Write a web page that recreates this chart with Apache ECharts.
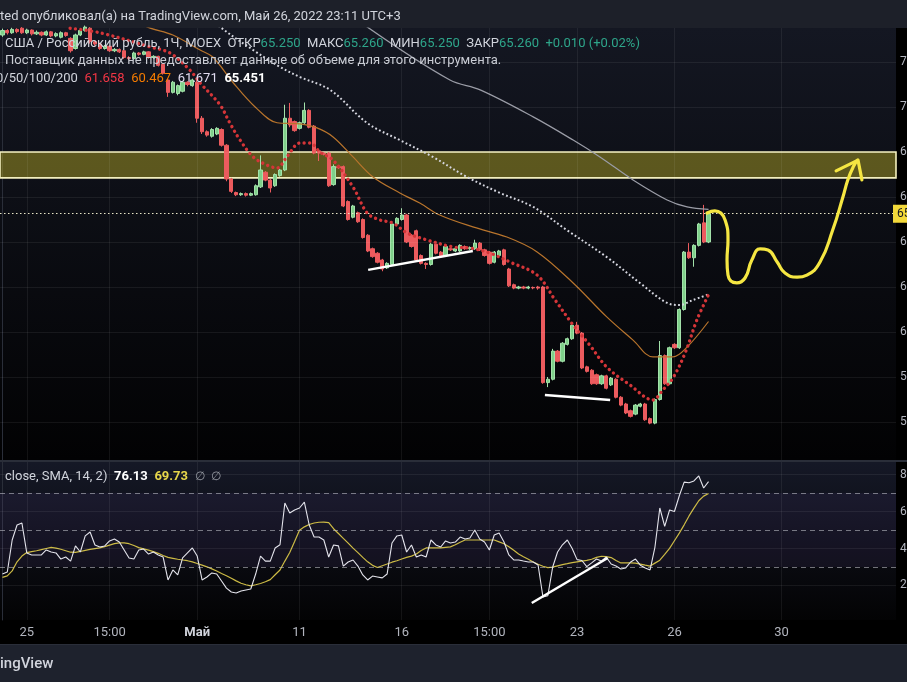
<!DOCTYPE html>
<html><head><meta charset="utf-8">
<script src="https://cdn.jsdelivr.net/npm/echarts@6/dist/echarts.min.js"></script>
<style>html,body{margin:0;padding:0;background:#000;}#c{width:907px;height:682px;}</style>
</head><body><div id="c"></div>
<script>
// ---------- data ----------
const slotCount = 184; // hourly slots on the time scale (incl. empty future)
const tickIndex = [5, 22, 40, 61, 82, 100, 118, 138, 160];
const tickLabels = ['25', '15:00', 'Май', '11', '16', '15:00', '23', '26', '30'];
const priceTicks = [56, 58, 60, 62, 64, 66, 68, 70, 72];
const rsiTicks = [80, 60, 40, 20];
const rsiLevels = [70, 50, 30];
// [open, close, low, high]
const candles = [
[73.20,73.40,73.12,73.48],[73.40,73.30,73.22,73.46],[73.30,73.45,73.25,73.52],[73.45,73.35,73.28,73.50],[73.50,73.30,73.25,73.55],
[73.30,73.42,73.24,73.48],[73.42,73.25,73.18,73.45],[73.25,73.32,73.20,73.40],[73.32,73.20,73.14,73.36],[73.20,73.34,73.16,73.40],
[73.34,73.16,73.10,73.38],[73.16,73.26,73.10,73.32],[73.10,73.30,73.05,73.36],[73.30,73.18,73.12,73.34],[73.05,72.50,72.42,73.10],
[72.60,73.20,72.55,73.26],[73.20,73.40,73.15,73.48],[73.40,73.55,73.35,73.62],[73.50,72.90,72.82,73.55],[72.90,72.80,72.72,72.96],
[72.80,72.60,72.54,72.86],[72.60,72.70,72.55,72.76],[72.70,72.50,72.45,72.74],[72.50,72.56,72.44,72.62],[72.56,72.45,72.40,72.60],
[72.50,72.20,72.14,72.55],[72.20,72.15,72.08,72.26],[72.15,72.40,72.10,72.46],[72.40,72.34,72.28,72.44],[72.34,72.45,72.30,72.50],
[72.45,72.20,72.15,72.48],[72.20,72.25,72.14,72.30],[72.25,71.85,71.80,72.28],[71.90,71.50,71.44,71.95],[71.20,70.65,70.45,71.25],
[70.65,71.10,70.60,71.16],[70.60,70.95,70.52,71.00],[70.70,71.10,70.65,71.16],[71.10,71.00,70.92,71.15],[70.95,71.20,70.90,71.26],
[71.10,69.50,69.30,71.20],[69.50,68.90,68.80,69.60],[68.90,68.75,68.68,68.96],[68.70,69.00,68.64,69.06],[68.80,69.05,68.75,69.10],
[69.00,68.30,68.24,69.05],[68.30,66.80,66.70,68.35],[66.80,66.25,66.18,66.85],[66.20,66.10,66.04,66.24],[66.10,66.15,66.05,66.20],
[66.15,66.08,66.02,66.20],[66.08,66.15,66.04,66.20],[66.10,66.50,66.06,66.56],[66.45,67.20,66.40,67.85],[67.10,66.75,66.70,67.15],
[66.75,66.40,66.20,66.80],[66.50,67.00,66.45,67.05],[66.95,67.20,66.90,67.25],[67.20,69.50,67.15,70.10],[69.50,69.20,69.10,70.18],
[69.35,68.95,68.90,69.40],[69.05,69.30,69.00,69.35],[69.30,69.85,69.25,70.20],[69.85,69.10,69.05,69.90],[69.15,67.95,67.90,69.20],
[68.05,67.95,67.60,68.10],[67.95,67.90,67.85,68.00],[67.95,66.50,66.45,68.00],[66.55,67.35,66.50,67.45],[67.35,67.30,67.25,67.40],
[67.35,65.60,65.55,67.40],[65.80,65.00,64.95,65.85],[65.10,65.60,65.05,65.65],[65.30,64.90,64.85,65.35],[65.00,64.20,64.15,65.05],
[64.30,63.60,63.55,64.35],[63.70,63.35,63.30,63.75],[63.50,63.10,63.05,63.55],[63.20,62.80,62.70,63.25],[62.85,63.05,62.80,63.10],
[63.00,64.80,62.95,64.85],[64.80,65.05,64.75,65.10],[65.00,65.20,64.95,65.50],[65.20,64.00,63.95,65.25],[64.30,63.80,63.75,64.35],
[64.50,63.20,63.15,64.55],[63.40,63.05,63.00,63.45],[63.05,63.00,62.80,63.10],[63.00,63.90,62.95,63.95],[63.90,63.50,63.45,63.95],
[63.55,63.35,63.30,63.60],[63.40,63.80,63.35,63.85],[63.70,63.65,63.60,63.75],[63.60,63.70,63.55,63.75],[63.60,63.85,63.55,63.90],
[63.80,63.70,63.65,63.85],[63.70,63.75,63.65,63.80],[63.70,63.95,63.65,64.10],[63.95,63.65,63.60,64.00],[63.65,63.40,63.35,63.70],
[63.55,63.05,63.00,63.60],[63.10,63.55,63.05,63.60],[63.40,63.60,63.35,63.65],[63.65,63.00,62.95,63.70],[62.80,62.05,62.00,62.85],
[62.10,61.95,61.90,62.15],[61.95,62.00,61.90,62.05],[62.00,61.95,61.90,62.05],[61.95,62.00,61.90,62.05],[61.98,61.96,61.90,62.02],
[62.00,61.95,61.88,62.05],[62.00,57.75,57.70,62.05],[57.75,57.90,57.55,58.00],[57.90,59.15,57.85,59.25],[59.15,58.70,58.65,59.20],
[58.70,59.50,58.65,59.55],[59.45,59.70,59.40,59.75],[59.70,60.30,59.65,60.35],[60.30,59.95,59.90,60.45],[59.95,58.40,58.35,60.00],
[58.45,58.25,58.20,58.50],[58.30,57.70,57.65,58.35],[58.10,57.70,57.65,58.15],[57.70,58.05,57.65,58.10],[58.05,57.50,57.45,58.10],
[57.65,57.95,57.60,58.00],[57.90,57.10,57.05,57.95],[57.10,56.75,56.70,57.15],[56.80,56.40,56.35,56.85],[56.50,56.25,56.20,56.55],
[56.35,56.75,56.30,56.80],[56.70,56.80,56.65,56.85],[56.80,56.10,56.05,56.85],[56.15,55.95,55.90,56.20],[55.95,57.00,55.90,57.05],
[57.00,58.95,56.95,59.60],[58.95,57.70,57.65,59.00],[57.70,59.30,57.65,59.35],[59.45,59.30,59.25,59.50],[59.30,61.00,59.25,61.05],
[61.00,63.55,60.95,63.60],[63.55,63.30,63.25,63.95],[63.30,63.85,62.90,63.90],[63.85,64.80,63.80,64.85],[64.85,64.00,63.95,65.65],
[64.00,65.26,63.95,65.30]
];
// moving averages: [slot, value]
const ma20 = [[13.9,73.5],[20,73.3],[30.3,72.67],[34.4,72.4],[38.5,71.64],[40.6,71.07],[44.7,70.09],[46.7,69.29],[48.8,68.53],[51.5,67.78],[54.3,67.42],[56.4,67.29],[58.4,67.78],[61.1,68.4],[63.2,68.4],[65.2,68.0],[67.9,67.64],[72,66.44],[74.9,65.29],[77.5,64.98],[80.2,64.84],[83.1,64.4],[87.2,64.09],[92.5,63.78],[96,63.73],[100.1,63.51],[104.2,63.11],[109.8,62.53],[113.5,61.42],[117.2,60.31],[120.6,59.42],[124.1,58.44],[128.9,57.64],[133.6,56.98],[135.6,57.42],[137.7,57.96],[140.2,59.07],[142.6,60.53],[145,61.658]];
const ma50 = [[24.1,74.2],[29.7,73.56],[35,73.2],[40.6,72.53],[43.2,72.22],[47.3,71.1],[51.9,70.0],[56.4,69.3],[61.1,69.25],[64.6,69.07],[67.9,68.67],[72,67.78],[76.1,66.89],[81.6,66.18],[85.7,65.73],[89.8,65.2],[96.6,64.67],[103.6,64.22],[109.8,63.56],[117.2,62.18],[124.1,60.67],[129.5,59.64],[133.6,58.89],[137.7,58.89],[140.6,59.33],[145,60.467]];
const ma100 = [[40.6,74.4],[44.7,73.56],[51.5,72.53],[57,71.78],[61.1,71.33],[67.3,70.76],[74.9,69.29],[81.6,68.53],[88.4,67.78],[95.4,66.89],[102.2,66.18],[109,65.56],[115.9,64.53],[124.1,63.33],[130.9,62.18],[136.5,61.29],[139.1,61.2],[141.8,61.42],[145,61.671]];
const ma200 = [[69.3,74.6],[74.9,73.56],[91.9,71.2],[98.1,70.76],[109,69.56],[117.2,68.53],[122.7,67.78],[129.5,66.76],[136.5,65.87],[140.6,65.56],[145,65.451]];
const rsi = [
26.2,27.3,44.6,52.7,53.8,37.6,36.5,36.5,36.5,39.2,
38.1,37.6,34.3,35.4,33.2,41.4,38.1,46.8,48.9,41.9,
40.8,41.4,44.1,45.1,43.5,39.2,34.9,34.3,39.2,39.7,
37.0,38.1,36.5,35.4,23.0,28.4,25.7,34.9,37.6,40.3,
35.9,23.0,24.6,26.8,26.2,22.4,18.6,16.5,15.9,17.0,
17.6,18.1,26.2,35.9,33.2,33.2,40.3,42.0,64.6,59.2,
60.8,61.9,65.1,52.7,46.2,46.2,44.6,35.4,41.9,41.4,
30.5,32.7,33.8,30.5,25.7,23.0,25.1,24.6,24.1,26.2,
43.0,46.8,47.3,38.1,41.9,35.4,36.5,35.4,44.6,41.9,
40.8,44.1,43.0,43.5,46.2,45.1,45.7,50.0,45.1,43.5,
39.2,47.3,48.4,43.5,36.5,33.8,33.8,33.2,32.7,32.7,
31.1,13.8,14.5,30.0,38.1,42.0,44.6,40.0,34.0,33.5,
30.2,32.2,34.3,33.2,35.4,31.6,30.5,28.9,29.5,32.7,
34.3,31.0,29.5,28.4,40.8,61.9,52.0,60.8,60.0,68.5,
75.9,75.5,76.5,79.2,72.7,76.13];
const rsiSma = [
24.4,25.2,27.9,32.8,35.9,37.8,38.3,38.8,39.4,40.0,
40.6,40.2,39.6,38.8,38.0,37.9,38.4,39.0,39.5,39.9,
40.3,41.0,41.8,42.6,43.0,43.0,42.6,41.6,40.5,39.8,
39.1,38.3,37.4,36.2,35.2,34.7,34.2,33.8,33.4,32.8,
31.9,31.0,30.1,29.0,27.8,26.5,25.3,23.9,22.5,21.2,
20.4,19.8,20.4,21.1,22.0,23.2,25.8,28.4,33.2,37.8,
43.8,49.9,51.7,53.0,53.8,54.2,54.3,54.0,50.7,48.1,
45.5,42.9,40.2,37.8,35.2,32.8,30.9,29.7,30.7,31.6,
32.6,33.4,34.3,35.2,35.9,37.0,38.9,40.3,40.3,40.3,
40.3,40.6,40.9,42.0,43.4,44.6,44.6,44.6,44.6,44.6,
44.6,44.6,43.6,42.6,41.0,39.0,37.0,35.5,34.2,32.7,
31.5,30.4,29.7,29.9,30.6,31.3,31.8,32.4,32.8,33.2,
33.6,34.2,35.2,35.8,35.6,35.1,33.5,32.2,32.2,32.2,
32.1,31.6,31.0,30.5,32.1,33.7,36.8,40.1,44.2,48.3,
52.8,57.6,61.8,65.8,68.3,69.73];
const zone = [66.85, 68.0];
const lastPrice = 65.26;
const trendA = [[75.1, 62.76], [96.6, 63.6]];
const trendB = [[111.4, 57.2], [124.8, 56.98]];
const rsiTrend = [[108.7, 10.5], [124.3, 34.9]];
const forecast = [[144.7,65.29],[146.3,65.38],[148.4,64.98],[149,64.09],[148.8,63.2],[149,62.53],[150.8,62.18],[152.5,62.4],[153.9,63.2],[155.6,63.69],[157.2,63.64],[159.1,63.11],[160.7,62.62],[163.2,62.44],[165.2,62.53],[167.9,63.11],[170.5,64.53],[172.6,66.0],[173.6,66.76],[174.7,67.33],[175.6,67.64]];
const arrowHead = [[171.2,67.16],[175.7,67.64],[176.5,66.76]];

// ---------- chart ----------
const chart = echarts.init(document.getElementById('c'), null, {renderer: 'canvas'});
const W = 896;
const priceTop = 28, priceH = 432, rsiTop = 462, rsiH = 158;
const priceMin = 54.311, priceMax = 73.511;
const rsiMin = 1.35, rsiMax = 86.76;
const gridColor = 'rgba(255,255,255,0.065)';
const FF = 'Roboto, "Noto Sans", sans-serif';
const xExt = {min: -0.5, max: slotCount - 0.5};
const cats = Array.from({length: slotCount}, (_, i) => 'b' + i);

const vLines = tickIndex.map(i => ({xAxis: i}));
const hPrice = priceTicks.map(v => ({yAxis: v}));
const hRsi = rsiTicks.map(v => ({yAxis: v}));
const hRsiLv = rsiLevels.map(v => ({yAxis: v}));

const option = {
  backgroundColor: '#000',
  animation: false,
  graphic: [
    {type: 'rect', shape: {x: 0, y: 0, width: 907, height: 28}, style: {fill: '#1d2029'}, z: 0},
    {type: 'rect', shape: {x: 0, y: priceTop, width: W, height: priceH}, style: {fill: new echarts.graphic.LinearGradient(0, 0, 0, 1, [{offset: 0, color: '#141722'}, {offset: 1, color: '#020203'}])}, z: 0},
    {type: 'rect', shape: {x: 0, y: rsiTop, width: W, height: rsiH}, style: {fill: new echarts.graphic.LinearGradient(0, 0, 0, 1, [{offset: 0, color: '#151826'}, {offset: 1, color: '#030304'}])}, z: 0},
    {type: 'rect', shape: {x: 0, y: 460, width: 907, height: 2}, style: {fill: '#2a2e39'}, z: 0},
    {type: 'rect', shape: {x: 0, y: 645, width: 907, height: 37}, style: {fill: '#1e222d'}, z: 0},
    {type: 'rect', shape: {x: 0, y: 644, width: 907, height: 1}, style: {fill: '#2a2e39'}, z: 0},
    {type: 'text', x: 0, y: 17, z: 100, style: {text: 'ted опубликовал(а) на TradingView.com, Май 26, 2022 23:11 UTC+3', fill: '#d1d4dc', font: '13px ' + FF, verticalAlign: 'middle'}},
    {type: 'text', x: 5, y: 44, z: 100, style: {
      text: '{w|США / Российский рубль, 1Ч, MOEX  ОТКР}{g|65.250}{w|  МАКС}{g|65.260}{w|  МИН}{g|65.250}{w|  ЗАКР}{g|65.260}{g|  +0.010 (+0.02%)}',
      verticalAlign: 'middle',
      rich: {w: {fill: '#d1d4dc', fontSize: 13, fontFamily: FF}, g: {fill: '#2ea58a', fontSize: 13, fontFamily: FF}}}},
    {type: 'text', x: 5, y: 61, z: 100, style: {text: 'Поставщик данных не предоставляет данные об объеме для этого инструмента.', fill: '#c9ccd4', font: '13px ' + FF, verticalAlign: 'middle'}},
    {type: 'text', x: -4, y: 79, z: 100, style: {
      text: '{w|0/50/100/200}  {r|61.658}  {o|60.467}  {l|61.671}  {b|65.451}',
      verticalAlign: 'middle',
      rich: {w: {fill: '#d1d4dc', fontSize: 13, fontFamily: FF}, r: {fill: '#f23645', fontSize: 13, fontFamily: FF}, o: {fill: '#f57c00', fontSize: 13, fontFamily: FF}, l: {fill: '#e1dcf0', fontSize: 13, fontFamily: FF}, b: {fill: '#ffffff', fontSize: 13, fontFamily: FF, fontWeight: 'bold'}}}},
    {type: 'text', x: 5, y: 477, z: 100, style: {
      text: '{w|close, SMA, 14, 2)}  {b|76.13}  {y|69.73}  {g|∅  ∅}',
      verticalAlign: 'middle',
      rich: {w: {fill: '#d1d4dc', fontSize: 13, fontFamily: FF}, b: {fill: '#ffffff', fontSize: 13, fontFamily: FF, fontWeight: 'bold'}, y: {fill: '#e6d54a', fontSize: 13, fontFamily: FF, fontWeight: 'bold'}, g: {fill: '#9598a1', fontSize: 12, fontFamily: FF}}}},
    {type: 'text', x: 0, y: 664, z: 100, style: {text: 'ingView', fill: '#d1d4dc', font: '500 15px ' + FF, verticalAlign: 'middle'}}
  ],
  grid: [
    {left: 0, top: priceTop, width: W, height: priceH, outerBoundsMode: 'none', containLabel: false},
    {left: 0, top: rsiTop, width: W, height: rsiH, outerBoundsMode: 'none', containLabel: false}
  ],
  xAxis: [
    {type: 'category', gridIndex: 0, data: cats, boundaryGap: true, show: false},
    Object.assign({type: 'value', gridIndex: 0, show: false}, xExt),
    Object.assign({type: 'value', gridIndex: 1, splitLine: {show: false}, axisLine: {show: false}, axisTick: {show: false},
      axisLabel: {customValues: tickIndex, margin: 6, color: '#b2b5be', fontSize: 13, fontFamily: FF,
        formatter: v => { const k = tickIndex.indexOf(Math.round(v)); const t = k >= 0 ? tickLabels[k] : ''; return t === 'Май' ? '{b|' + t + '}' : t; },
        rich: {b: {fontWeight: 'bold', color: '#d1d4dc', fontSize: 13, fontFamily: FF}}}}, xExt)
  ],
  yAxis: [
    {type: 'value', gridIndex: 0, position: 'right', min: priceMin, max: priceMax, splitLine: {show: false},
      axisLine: {show: true, lineStyle: {color: '#2a2e39'}}, axisTick: {show: false},
      axisLabel: {customValues: priceTicks, margin: 4, color: '#b2b5be', fontSize: 12, fontFamily: FF, formatter: v => v.toFixed(3)}},
    {type: 'value', gridIndex: 1, position: 'right', min: rsiMin, max: rsiMax, splitLine: {show: false},
      axisLine: {show: true, lineStyle: {color: '#2a2e39'}}, axisTick: {show: false},
      axisLabel: {customValues: rsiTicks, margin: 4, color: '#b2b5be', fontSize: 12, fontFamily: FF, formatter: v => v.toFixed(2)}}
  ],
  series: [
    {type: 'line', xAxisIndex: 1, yAxisIndex: 0, data: [[-50, 60]], showSymbol: false, silent: true, z: 1,
      markLine: {silent: true, symbol: 'none', label: {show: false}, lineStyle: {color: gridColor, width: 1, type: 'solid'}, data: hPrice.concat(vLines)}},
    {type: 'line', xAxisIndex: 2, yAxisIndex: 1, data: [[-50, 50]], showSymbol: false, silent: true, z: 1,
      markLine: {silent: true, symbol: 'none', label: {show: false}, lineStyle: {color: gridColor, width: 1, type: 'solid'}, data: hRsi.concat(vLines)},
      markArea: {silent: true, itemStyle: {color: 'rgba(126,87,194,0.09)'}, data: [[{yAxis: 70}, {yAxis: 30}]]}},
    {type: 'line', xAxisIndex: 2, yAxisIndex: 1, data: [[-50, 50]], showSymbol: false, silent: true, z: 2,
      markLine: {silent: true, symbol: 'none', label: {show: false}, lineStyle: {color: 'rgba(200,202,210,0.55)', width: 1, type: [5, 4]}, data: hRsiLv}},
    {type: 'candlestick', xAxisIndex: 0, yAxisIndex: 0, data: candles, barWidth: 3.8, z: 3,
      itemStyle: {color: '#7fd08a', color0: '#ec5b5e', borderColor: '#a3e2aa', borderColor0: '#ec5b5e', borderWidth: 1},
      markArea: {silent: true, itemStyle: {color: 'rgba(185,172,38,0.46)', borderColor: '#f3efbe', borderWidth: 1.6},
        data: [[{yAxis: zone[1]}, {yAxis: zone[0]}]]},
      markLine: {silent: true, symbol: 'none', lineStyle: {color: '#e9e6c8', width: 1, type: [1.5, 2.5]},
        label: {show: true, position: 'end', distance: -3, formatter: lastPrice.toFixed(3), backgroundColor: '#f3d93a', color: '#131722', padding: [3, 4], fontSize: 12, fontFamily: FF},
        data: [{yAxis: lastPrice}]}},
    {type: 'line', xAxisIndex: 1, yAxisIndex: 0, data: ma200, smooth: 0.35, showSymbol: false, z: 4, lineStyle: {color: '#9a9ca6', width: 1.2}},
    {type: 'line', xAxisIndex: 1, yAxisIndex: 0, data: ma100, smooth: 0.35, showSymbol: false, z: 4, lineStyle: {color: '#d6d7e0', width: 2, type: [1.8, 2.4]}},
    {type: 'line', xAxisIndex: 1, yAxisIndex: 0, data: ma50, smooth: 0.35, showSymbol: false, z: 4, lineStyle: {color: '#b8742c', width: 1.2}},
    {type: 'line', xAxisIndex: 1, yAxisIndex: 0, data: ma20, smooth: 0.35, showSymbol: false, z: 4, lineStyle: {color: '#d43538', width: 3.4, type: [0.01, 5.4], cap: 'round'}},
    {type: 'line', xAxisIndex: 1, yAxisIndex: 0, data: trendA, showSymbol: false, z: 5, lineStyle: {color: '#ffffff', width: 2.4}},
    {type: 'line', xAxisIndex: 1, yAxisIndex: 0, data: trendB, showSymbol: false, z: 5, lineStyle: {color: '#ffffff', width: 2.4}},
    {type: 'line', xAxisIndex: 1, yAxisIndex: 0, data: forecast, smooth: 0.5, showSymbol: false, z: 5, lineStyle: {color: '#f5e642', width: 3.2, cap: 'round', join: 'round'}},
    {type: 'line', xAxisIndex: 1, yAxisIndex: 0, data: arrowHead, showSymbol: false, z: 5, lineStyle: {color: '#f5e642', width: 3.2, cap: 'round', join: 'round'}},
    {type: 'line', xAxisIndex: 2, yAxisIndex: 1, data: rsiSma.map((v, i) => [i, v]), showSymbol: false, z: 4, lineStyle: {color: '#cdbb45', width: 1.2}},
    {type: 'line', xAxisIndex: 2, yAxisIndex: 1, data: rsi.map((v, i) => [i, v]), showSymbol: false, z: 5, lineStyle: {color: '#e4e4ec', width: 1.1}},
    {type: 'line', xAxisIndex: 2, yAxisIndex: 1, data: rsiTrend, showSymbol: false, z: 6, lineStyle: {color: '#ffffff', width: 2.4}}
  ]
};
chart.setOption(option);
</script>
</body></html>
